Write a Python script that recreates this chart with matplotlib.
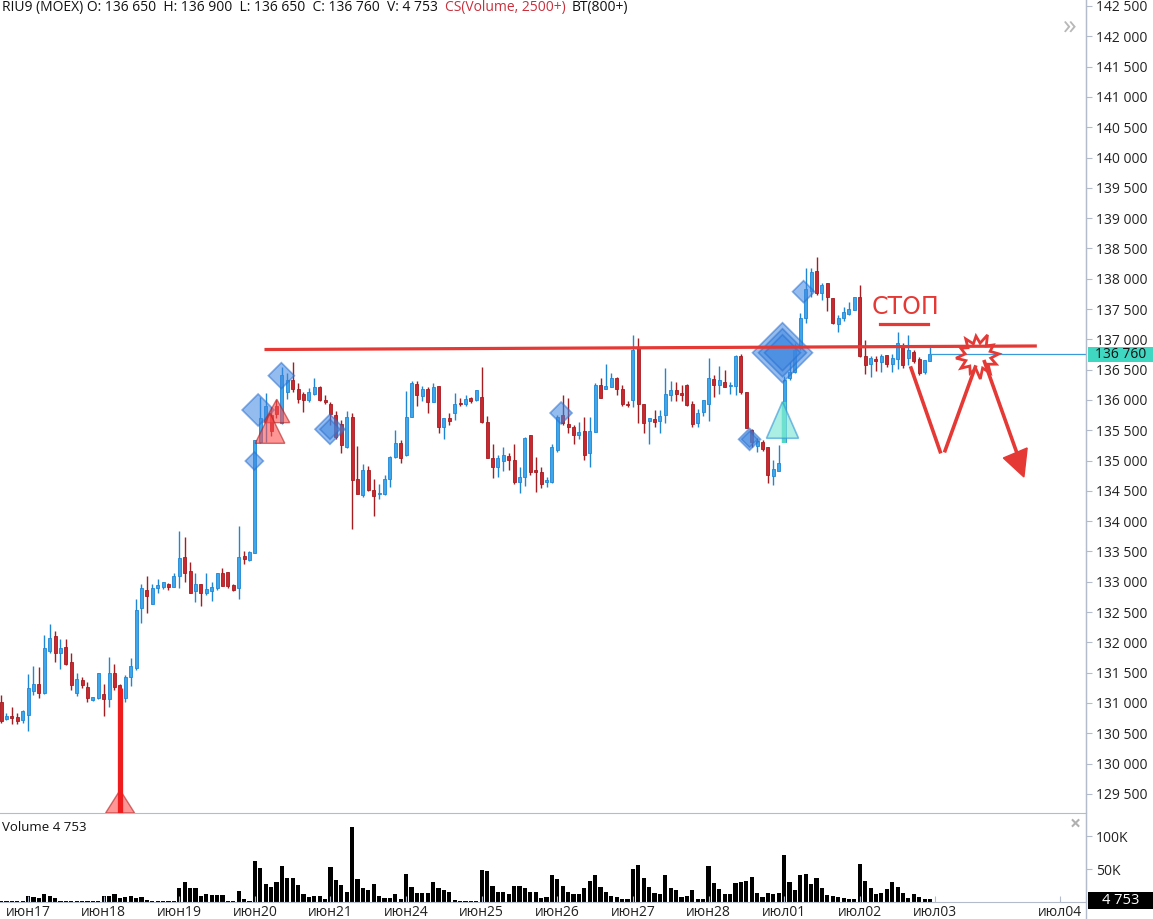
import numpy as np
import matplotlib
matplotlib.use("Agg")
import matplotlib.pyplot as plt
from matplotlib.patches import Polygon, Rectangle
from matplotlib.lines import Line2D

plt.rcParams['font.family'] = ['Open Sans', 'DejaVu Sans']

# hourly candles RIU9, 14 per session (first 5 = end of Jun 14)
opens = [
    131020, 130730, 130785, 130770, 130720, 130800, 131190, 131310, 131160, 131860,
    132100, 131820, 131920, 131680, 131160, 131380, 131270, 131050, 131080, 131150,
    131060, 131500, 131290, 131080, 131420, 131570, 132560, 132860, 132640, 132890,
    132910, 132960, 132920, 133090, 133400, 133180, 132840, 132960, 132810, 132850,
    132890, 133150, 133160, 132950, 132890, 133420, 133360, 133480, 135310, 135660,
    135750, 135900, 135620, 136135, 136330, 136175, 136090, 136000, 136100, 136220,
    136000, 135930, 135750, 135610, 135220, 135710, 134690, 134430, 134840, 134515,
    134440, 134450, 134700, 135050, 135285, 135090, 135710, 136260, 136065, 136175,
    135970, 136230, 135550, 135700, 135790, 135950, 135930, 136030, 135999, 136050,
    135640, 135035, 134900, 135000, 135080, 135010, 134650, 134730, 135420, 134845,
    134815, 134640, 134650, 135170, 135750, 135600, 135550, 135420, 135490, 135120,
    135475, 136245, 136175, 136220, 136370, 136175, 135940, 136000, 136879, 135933,
    135658, 135680, 135658, 135750, 136080, 136164, 136120, 136245, 135933, 135614,
    135800, 135933, 136340, 136245, 136300, 136230, 136230, 136725, 136136, 135504,
    135240, 135312, 135218, 134745, 134833, 135300, 136356, 136466, 136850, 137347,
    137790, 138133, 137770, 137924, 137677, 137253, 137346, 137420, 137484, 137693,
    136725, 136593, 136670, 136632, 136740, 136593, 136670, 136879, 136692, 136797,
    136670, 136467, 136650,
]
highs = [
    131130, 130830, 130940, 130830, 130880, 131480, 131610, 131590, 132120, 132310,
    132190, 132050, 132050, 131820, 131490, 131435, 131350, 131100, 131500, 131310,
    131760, 131640, 131320, 131460, 131740, 132710, 132970, 133100, 132970, 133040,
    133000, 132985, 133150, 133840, 133740, 133330, 133150, 132960, 133140, 133000,
    133150, 133220, 133160, 132960, 133920, 133500, 133500, 135340, 136050, 136110,
    135880, 136000, 136550, 136440, 136630, 136285, 136125, 136190, 136355, 136230,
    136080, 135970, 135820, 135670, 135820, 135790, 135240, 134950, 134910, 134690,
    134610, 134760, 135075, 135500, 135340, 136150, 136320, 136320, 136230, 136210,
    136275, 136230, 135700, 135780, 136110, 136040, 136080, 136050, 136160, 136540,
    135735, 135280, 135090, 135220, 135120, 135270, 134900, 135390, 135420, 135060,
    134900, 134735, 135270, 135750, 136080, 136030, 135590, 135640, 135724, 135710,
    136275, 136370, 136590, 136440, 136380, 136245, 135988, 137070, 137016, 135933,
    135697, 135835, 135835, 136520, 136320, 136300, 136245, 136263, 135988, 135845,
    136000, 136686, 136410, 136560, 136494, 136300, 136740, 136758, 136136, 135515,
    135367, 135339, 135229, 135009, 135256, 136400, 136630, 136934, 137430, 138170,
    138170, 138353, 137935, 137935, 137677, 137400, 137539, 137620, 137704, 137897,
    136989, 136725, 136725, 136758, 136740, 136758, 137126, 136945, 137070, 136824,
    136703, 136660, 136900,
]
lows = [
    130670, 130720, 130660, 130650, 130675, 130540, 131130, 131075, 131150, 131820,
    131680, 131555, 131620, 131215, 131115, 131240, 131020, 131040, 131070, 130790,
    130940, 131210, 131150, 131010, 131280, 131540, 132320, 132490, 132640, 132820,
    132875, 132865, 132920, 132900, 133000, 132820, 132670, 132600, 132780, 132690,
    132860, 132930, 132890, 132840, 132710, 133290, 133340, 133470, 135290, 135300,
    135400, 135700, 135610, 136010, 136135, 135955, 135805, 135970, 136080, 135990,
    135930, 135590, 135350, 135120, 135200, 133865, 134450, 134390, 134500, 134085,
    134360, 134430, 134560, 135035, 134965, 135075, 135710, 135900, 135990, 135790,
    135970, 135450, 135350, 135590, 135670, 135900, 135900, 135950, 135990, 135625,
    135036, 134710, 134720, 134820, 134840, 134610, 134460, 134580, 134760, 134485,
    134540, 134560, 134635, 135145, 135590, 135450, 135270, 135350, 135010, 134900,
    135475, 136025, 136175, 136210, 136080, 135900, 135878, 135878, 135625, 135460,
    135273, 135560, 135450, 135615, 135988, 135988, 135988, 135900, 135560, 135548,
    135735, 135658, 136054, 136098, 136210, 136098, 136076, 136098, 135530, 135229,
    135146, 135163, 134624, 134596, 134833, 135300, 136329, 136439, 136824, 137275,
    137704, 137732, 137649, 137473, 137253, 137127, 137308, 137400, 137484, 136714,
    136428, 136373, 136483, 136467, 136538, 136467, 136505, 136522, 136577, 136615,
    136412, 136428, 136650,
]
closes = [
    130710, 130790, 130745, 130710, 130860, 131240, 131310, 131160, 131900, 132070,
    131820, 131900, 131650, 131300, 131390, 131300, 131080, 131090, 131490, 131060,
    131490, 131260, 131200, 131430, 131610, 132540, 132890, 132760, 132900, 132940,
    132990, 132910, 133090, 133390, 133150, 132820, 132960, 132820, 132880, 132910,
    133140, 132930, 132930, 132870, 133400, 133370, 133490, 135340, 135700, 135900,
    135480, 135770, 136410, 136330, 136175, 136010, 136000, 136135, 136220, 136000,
    135970, 135770, 135390, 135250, 135710, 134680, 134450, 134840, 134515, 134415,
    134460, 134690, 135050, 135285, 135035, 135710, 136275, 136080, 136175, 135970,
    136220, 135550, 135700, 135660, 135940, 135930, 136020, 135990, 136160, 135640,
    135036, 134900, 135035, 135090, 135010, 134650, 134730, 135365, 134815, 134815,
    134610, 134680, 135220, 135710, 135615, 135550, 135420, 135470, 135090, 135490,
    136245, 136040, 136230, 136370, 136175, 135933, 135915, 136824, 135933, 135625,
    135697, 135640, 135735, 136100, 136164, 136100, 136080, 135916, 135603, 135779,
    136000, 136356, 136245, 136330, 136210, 136250, 136725, 136136, 135530, 135312,
    135328, 135185, 134761, 134855, 134954, 136329, 136465, 136824, 137347, 137825,
    138117, 137759, 137897, 137693, 137264, 137346, 137456, 137495, 137693, 136725,
    136577, 136686, 136648, 136725, 136593, 136686, 136934, 136577, 136824, 136648,
    136450, 136660, 136760,
]
volumes = [
    1500, 1500, 1500, 1500, 1500,
    9700, 7650, 6600, 12750, 9700, 6600, 2000, 1500, 1500, 1500, 1500, 1500, 1500, 1500,
    9200, 9200, 12750, 6600, 7000, 9000, 5500, 8000, 3000, 1500, 1500, 1500, 1500, 1500,
    20900, 30000, 20900, 22000, 9700, 11700, 11200, 10700, 10000, 1500, 1500, 17300, 4600, 1500,
    61700, 51000, 27000, 23500, 29600, 54000, 35700, 35700, 25500, 12750, 7650, 9700, 9700, 4600,
    52500, 33000, 25500, 15800, 113700, 34200, 22000, 18400, 28000, 9700, 5600, 6600, 12750, 4600,
    41800, 23500, 14300, 14300, 14300, 31100, 22000, 18900, 15800, 2500, 1500, 1500, 1500, 1500,
    48000, 46400, 25000, 14800, 15800, 11700, 25000, 24000, 22000, 14800, 15800, 6600, 7650, 40300,
    34200, 25000, 15800, 12000, 11700, 22000, 32600, 40300, 23500, 15800, 8700, 7100, 4600, 4600,
    50500, 55600, 36200, 23500, 14300, 11700, 41300, 22000, 18400, 7100, 9700, 18400, 4600, 4600,
    54000, 28500, 19900, 11700, 11700, 28500, 31100, 32600, 37200, 14300, 8000, 14300, 11700, 13200,
    72000, 29600, 18400, 41300, 42300, 27000, 36200, 21000, 10700, 9700, 7650, 6600, 4600, 4000,
    58000, 32600, 22000, 12750, 13200, 19900, 31100, 23500, 13200, 5600, 11700, 7650, 4600, 4753,
]
day_labels = ['июн17', 'июн18', 'июн19', 'июн20', 'июн21', 'июн24', 'июн25', 'июн26',
              'июн27', 'июн28', 'июл01', 'июл02', 'июл03', 'июл04']
day_index = [5, 19, 33, 47, 61, 75, 89, 103, 117, 131, 145, 159, 173, 196]
last_price = 136760
last_volume = 4753

W, H = 1153, 919
fig = plt.figure(figsize=(W / 100, H / 100), dpi=100)
fig.patch.set_facecolor('white')

right_px = 1086
ax = fig.add_axes([0, 1 - 813 / H, right_px / W, 813 / H])
axv = fig.add_axes([0, 1 - 902 / H, right_px / W, 87 / H], sharex=ax)

o = np.array(opens); hi = np.array(highs); lo = np.array(lows); c = np.array(closes)
x = np.arange(len(o))
up = c >= o
blue_f, blue_e = '#3ea6ea', '#1f86d4'
red_f, red_e = '#c8282e', '#a51c21'
face = np.where(up, blue_f, red_f)
edge = np.where(up, blue_e, red_e)

xmin, xmax = -0.2, 200.9
ymin, ymax = 129184, 142599
ax.set_xlim(xmin, xmax)
ax.set_ylim(ymin, ymax)
ppx = (xmax - xmin) / right_px          # index units per pixel
ppy = (ymax - ymin) / 813               # price per pixel

ax.vlines(x, lo, hi, colors=edge, lw=1.0, zorder=2)
ax.bar(x, np.maximum(np.abs(c - o), 15), bottom=np.minimum(o, c), width=0.55,
       color=face, edgecolor=edge, linewidth=0.6, zorder=3)

# signal markers
def diamond(k, p, h, **kw):
    pts = [(k - h * ppx, p), (k, p + h * ppy), (k + h * ppx, p), (k, p - h * ppy)]
    ax.add_patch(Polygon(pts, closed=True, **kw))

def tri(k, p_apex, p_base, half, **kw):
    pts = [(k, p_apex), (k - half * ppx, p_base), (k + half * ppx, p_base)]
    ax.add_patch(Polygon(pts, closed=True, **kw))

dkw = dict(facecolor='#3d86e0', edgecolor='#2a6fd0', alpha=0.55, lw=1.2, zorder=5)
diamond(46.9, 134992, 9, **dkw)
diamond(47.6, 135834, 16, **dkw)
diamond(51.9, 136400, 13, **dkw)
diamond(60.9, 135516, 15, **dkw)
diamond(60.9, 135516, 10, **dkw)
diamond(103.7, 135784, 11, **dkw)
diamond(138.6, 135350, 11, **dkw)
diamond(138.6, 135350, 8, **dkw)
diamond(144.7, 136779, 30, **dkw)
diamond(144.7, 136779, 24, **dkw)
diamond(144.7, 136779, 18, **dkw)
diamond(148.6, 137786, 11, **dkw)

ax.plot([22.04, 22.04], [131247, ymin], color='#ee1c1c', lw=3.8, solid_capstyle='butt', zorder=6)
rkw = dict(facecolor='#ff5050', edgecolor='#b02020', alpha=0.6, lw=1.0, zorder=5)
tri(22.04, 129564, ymin, 14.5, **rkw)
tri(51.05, 136011, 135625, 13, **rkw)
tri(49.8, 135780, 135284, 14.8, **rkw)

ax.plot([145, 145], [135971, 135284], color='#4fd9c1', lw=3.2, solid_capstyle='butt', zorder=6)
tri(144.7, 135971, 135367, 16, facecolor='#7fe6d6', edgecolor='#3a9ad8', alpha=0.65, lw=1.2, zorder=6)

# current price line
ax.plot([172, xmax], [last_price, last_price], color='#3a9ad9', lw=0.9, zorder=4)

# hand drawn annotations
red = '#e53935'
ax.plot([49.07, 191.5], [136832, 136890], color=red, lw=2.3, zorder=7)
ax.text(167.4, 137533, 'СТОП', color=red, fontsize=17, ha='center', va='center',
        family=['DejaVu Sans'], zorder=7)
ax.plot([162.8, 171.7], [137253, 137253], color=red, lw=2.3, zorder=7)
ax.plot([168.5, 173.9], [136527, 135146], color=red, lw=2.6, zorder=7)
ax.plot([174.8, 180.4], [135162, 136543], color=red, lw=2.6, zorder=7)
ax.plot([182.1, 188.1], [136631, 135125], color=red, lw=2.6, zorder=7)
ax.add_patch(Polygon([(185.6, 135042), (190.0, 135207), (189.4, 134729)], closed=True,
                     facecolor=red, edgecolor=red, zorder=7))
ang = np.linspace(0, 2 * np.pi, 25)[:-1] + 0.1
rad = np.where(np.arange(24) % 2 == 0, 21, 13) * np.array(
    [1.0, 1.0, 0.9, 1.0, 1.1, 1.0, 0.95, 1.0, 1.0, 1.0, 0.9, 1.0,
     1.05, 1.0, 1.0, 1.0, 0.9, 1.0, 1.1, 1.0, 1.0, 1.0, 0.95, 1.0])
star = [(180.9 + r * np.cos(a) * ppx, 136725 + r * np.sin(a) * ppy) for r, a in zip(rad, ang)]
ax.add_patch(Polygon(star, closed=True, fill=False, edgecolor=red, lw=2.0, zorder=7))

# axes styling
axis_col = '#b4bccc'
for a in (ax, axv):
    for s in ('top', 'left'):
        a.spines[s].set_visible(False)
    a.spines['right'].set_color(axis_col)
    a.spines['bottom'].set_color(axis_col)
    a.set_facecolor('white')

ax.yaxis.tick_right()
yt = np.arange(129500, 142501, 500)
ax.set_yticks(yt)
ax.set_yticklabels([f"{int(v):,}".replace(',', ' ') for v in yt])
ax.tick_params(axis='y', length=4, color=axis_col, labelsize=10, pad=3, labelcolor='#222222')
ax.tick_params(axis='x', bottom=False, labelbottom=False)

# last price tag
box_w = (W - right_px - 2) / right_px
ax.add_patch(Rectangle((1.002, last_price - 8 * ppy), box_w, 15 * ppy,
                       transform=ax.get_yaxis_transform(), facecolor='#3fd6c2',
                       edgecolor='none', clip_on=False, zorder=9))
ax.text(1.002 + box_w / 2, last_price - 0.5 * ppy, f"{last_price:,}".replace(',', ' '),
        transform=ax.get_yaxis_transform(), ha='center', va='center', fontsize=10,
        color='#111111', zorder=10, clip_on=False)

# volume panel
axv.bar(x, volumes, width=0.75, color='black')
vmax = 132000
axv.set_ylim(0, vmax)
axv.yaxis.tick_right()
axv.set_yticks([50000, 100000])
axv.set_yticklabels(['50K', '100K'])
axv.tick_params(axis='y', length=4, color=axis_col, labelsize=10, pad=3, labelcolor='#222222')
axv.set_xticks(day_index)
axv.set_xticklabels(day_labels)
axv.tick_params(axis='x', direction='in', length=4, color=axis_col, labelsize=10, pad=2,
                labelcolor='#222222')
vpp = vmax / 87
axv.add_patch(Rectangle((1.002, last_volume - 10 * vpp), box_w, 17 * vpp,
                        transform=axv.get_yaxis_transform(), facecolor='black',
                        edgecolor='none', clip_on=False, zorder=9))
axv.text(1.002 + box_w / 2, last_volume - 1.5 * vpp, f"{last_volume:,}".replace(',', ' '),
         transform=axv.get_yaxis_transform(), ha='center', va='center', fontsize=10.5,
         color='white', zorder=10, clip_on=False)
axv.text(0.002, 0.93, f"Volume {last_volume:,}".replace(',', ' '), transform=axv.transAxes,
         ha='left', va='top', fontsize=9.5, color='#111111')

fig.add_artist(Line2D([right_px / W, right_px / W], [0, 1], color=axis_col, lw=1))

# header
fig.text(2 / W, 1 - 8 / H, "RIU9 (MOEX) O: 136 650  H: 136 900  L: 136 650  C: 136 760  V: 4 753",
         ha='left', va='center', fontsize=10, color='#111111')
fig.text(445 / W, 1 - 8 / H, "CS(Volume, 2500+)", ha='left', va='center', fontsize=10, color='#c8303c')
fig.text(572 / W, 1 - 8 / H, "BT(800+)", ha='left', va='center', fontsize=10, color='#111111')
fig.text(1070 / W, 1 - 28 / H, "»", ha='center', va='center', fontsize=20, color='#b8b8b8')
fig.text(1075 / W, 1 - 825 / H, "×", ha='center', va='center', fontsize=14, color='#b0b0b0',
         fontweight='bold')

fig.savefig('out.png', dpi=100)
